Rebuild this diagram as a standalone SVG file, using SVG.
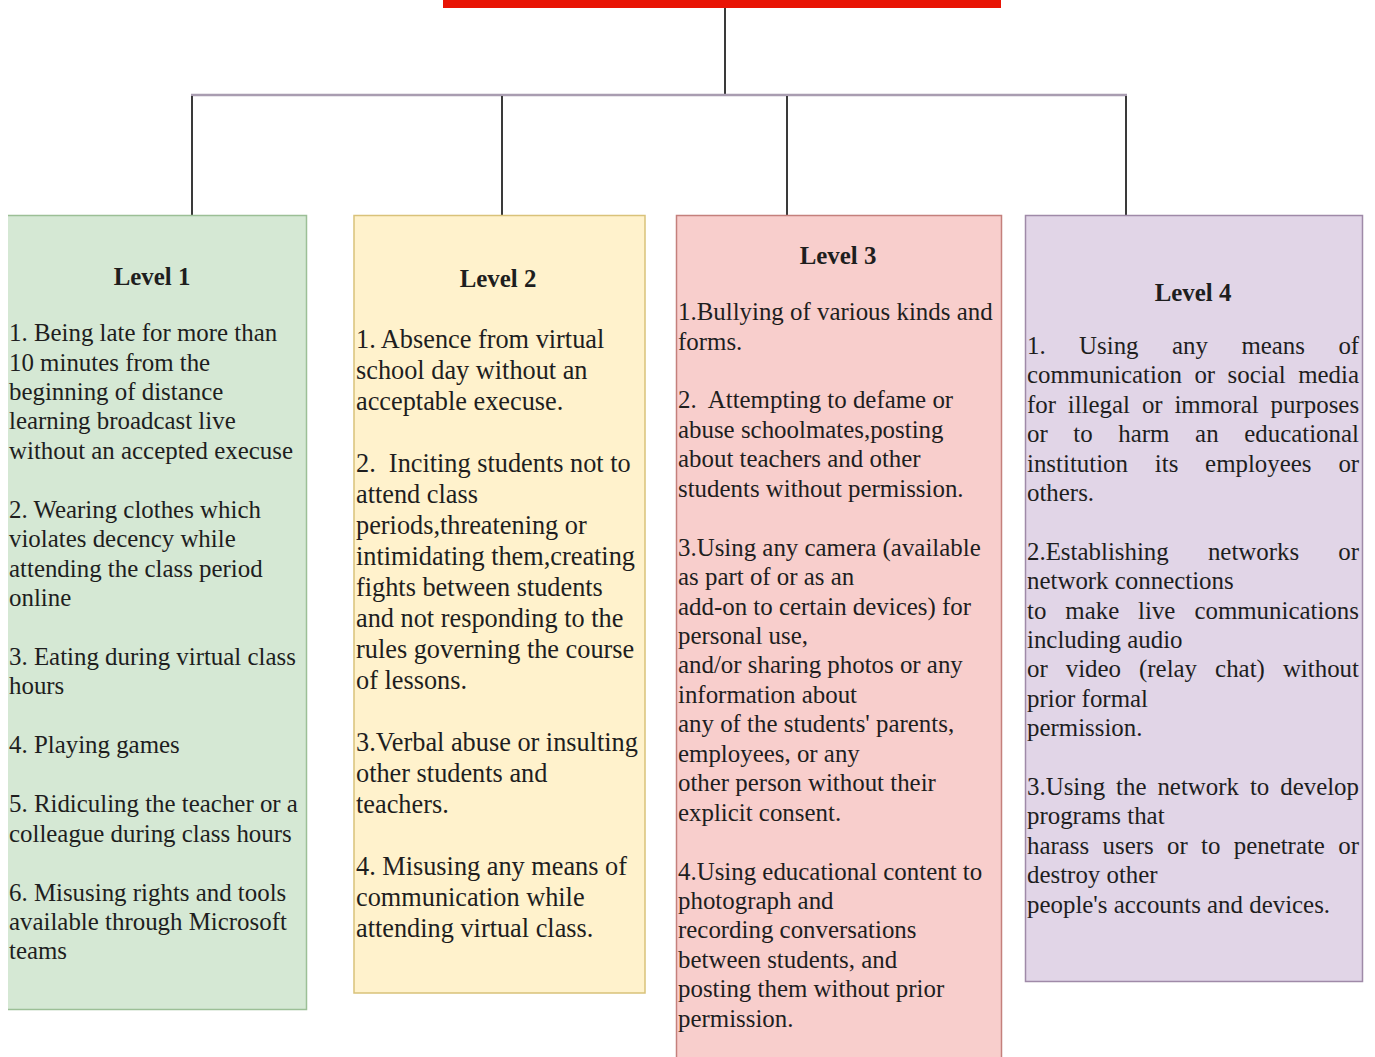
<svg xmlns="http://www.w3.org/2000/svg" width="1375" height="1057" viewBox="0 0 1375 1057">
<style>
.t{font-family:"Liberation Serif","Times New Roman",serif;fill:#1e1e1e;white-space:pre}
.b{font-size:24.9px}
.b2{font-size:26.3px}
.h{font-size:24.9px;font-weight:bold;text-anchor:middle}
.c{stroke:#3a3a3a;stroke-width:2;fill:none}
</style>
<rect width="1375" height="1057" fill="#ffffff"/>
<g id="top-bar"><rect x="443" y="0" width="558" height="8" fill="#e81405"/></g>
<g id="connectors">
<line class="c" x1="725" y1="8" x2="725" y2="95"/>
<line x1="191" y1="95" x2="1127" y2="95" stroke="#a99db1" stroke-width="2.5"/>
<line class="c" x1="192" y1="96" x2="192" y2="215"/>
<line class="c" x1="502" y1="96" x2="502" y2="215"/>
<line class="c" x1="787" y1="96" x2="787" y2="215"/>
<line class="c" x1="1126" y1="96" x2="1126" y2="215"/>
</g>
<g id="level1">
<rect x="8" y="215" width="299" height="795" fill="#d5e8d4"/>
<path d="M8 215.5H306.5V1009.5H8" fill="none" stroke="#9cbf96" stroke-width="1.5"/>
<text class="t h" x="152" y="285">Level 1</text>
<text class="t b">
<tspan x="9" y="341">1. Being late for more than</tspan>
<tspan x="9" y="370.5">10 minutes from the</tspan>
<tspan x="9" y="400">beginning of distance</tspan>
<tspan x="9" y="429.4">learning broadcast live</tspan>
<tspan x="9" y="458.8">without an accepted execuse</tspan>
<tspan x="9" y="517.7">2. Wearing clothes which</tspan>
<tspan x="9" y="547.2">violates decency while</tspan>
<tspan x="9" y="576.6">attending the class period</tspan>
<tspan x="9" y="606">online</tspan>
<tspan x="9" y="665">3. Eating during virtual class</tspan>
<tspan x="9" y="694.4">hours</tspan>
<tspan x="9" y="753.3">4. Playing games</tspan>
<tspan x="9" y="812.2">5. Ridiculing the teacher or a</tspan>
<tspan x="9" y="841.6">colleague during class hours</tspan>
<tspan x="9" y="900.5">6. Misusing rights and tools</tspan>
<tspan x="9" y="930">available through Microsoft</tspan>
<tspan x="9" y="959.4">teams</tspan>
</text>
</g>
<g id="level2">
<rect x="354" y="215.5" width="291" height="777.5" fill="#fff2cc" stroke="#d9c27a" stroke-width="1.5"/>
<text class="t h" x="498" y="287">Level 2</text>
<text class="t b2">
<tspan x="356" y="348">1. Absence from virtual</tspan>
<tspan x="356" y="379">school day without an</tspan>
<tspan x="356" y="410">acceptable execuse.</tspan>
<tspan x="356" y="472">2.  Inciting students not to</tspan>
<tspan x="356" y="503">attend class</tspan>
<tspan x="356" y="534">periods,threatening or</tspan>
<tspan x="356" y="565">intimidating them,creating</tspan>
<tspan x="356" y="596">fights between students</tspan>
<tspan x="356" y="627">and not responding to the</tspan>
<tspan x="356" y="658">rules governing the course</tspan>
<tspan x="356" y="689">of lessons.</tspan>
<tspan x="356" y="751">3.Verbal abuse or insulting</tspan>
<tspan x="356" y="782">other students and</tspan>
<tspan x="356" y="813">teachers.</tspan>
<tspan x="356" y="875">4. Misusing any means of</tspan>
<tspan x="356" y="906">communication while</tspan>
<tspan x="356" y="937">attending virtual class.</tspan>
</text>
</g>
<g id="level3">
<rect x="676.5" y="215.5" width="325" height="850" fill="#f8cecc" stroke="#c4807c" stroke-width="1.5"/>
<text class="t h" x="838" y="264">Level 3</text>
<text class="t b">
<tspan x="678" y="320">1.Bullying of various kinds and</tspan>
<tspan x="678" y="349.5">forms.</tspan>
<tspan x="678" y="408.4">2.  Attempting to defame or</tspan>
<tspan x="678" y="437.8">abuse schoolmates,posting</tspan>
<tspan x="678" y="467.3">about teachers and other</tspan>
<tspan x="678" y="496.7">students without permission.</tspan>
<tspan x="678" y="555.6">3.Using any camera (available</tspan>
<tspan x="678" y="585">as part of or as an</tspan>
<tspan x="678" y="614.5">add-on to certain devices) for</tspan>
<tspan x="678" y="644">personal use,</tspan>
<tspan x="678" y="673.4">and/or sharing photos or any</tspan>
<tspan x="678" y="702.8">information about</tspan>
<tspan x="678" y="732.3">any of the students' parents,</tspan>
<tspan x="678" y="761.7">employees, or any</tspan>
<tspan x="678" y="791.2">other person without their</tspan>
<tspan x="678" y="820.6">explicit consent.</tspan>
<tspan x="678" y="879.5">4.Using educational content to</tspan>
<tspan x="678" y="909">photograph and</tspan>
<tspan x="678" y="938.4">recording conversations</tspan>
<tspan x="678" y="967.9">between students, and</tspan>
<tspan x="678" y="997.3">posting them without prior</tspan>
<tspan x="678" y="1026.8">permission.</tspan>
</text>
</g>
<g id="level4">
<rect x="1025.5" y="215.5" width="337" height="766" fill="#e1d5e7" stroke="#9f8aa8" stroke-width="1.5"/>
<text class="t h" x="1193" y="301">Level 4</text>
<text class="t b">
<tspan y="354" x="1027">1.</tspan><tspan y="354" x="1079.1">Using</tspan><tspan y="354" x="1172">any</tspan><tspan y="354" x="1241.4">means</tspan><tspan y="354" x="1338.4">of</tspan>
<tspan y="383.4" x="1027">communication</tspan><tspan y="383.4" x="1194.4">or</tspan><tspan y="383.4" x="1227.6">social</tspan><tspan y="383.4" x="1298.2">media</tspan>
<tspan y="412.8" x="1027">for</tspan><tspan y="412.8" x="1067.8">illegal</tspan><tspan y="412.8" x="1141.9">or</tspan><tspan y="412.8" x="1174.4">immoral</tspan><tspan y="412.8" x="1270.6">purposes</tspan>
<tspan y="442.2" x="1027">or</tspan><tspan y="442.2" x="1073.3">to</tspan><tspan y="442.2" x="1118.3">harm</tspan><tspan y="442.2" x="1195.1">an</tspan><tspan y="442.2" x="1244.2">educational</tspan>
<tspan y="471.6" x="1027">institution</tspan><tspan y="471.6" x="1154.8">its</tspan><tspan y="471.6" x="1205.1">employees</tspan><tspan y="471.6" x="1338.4">or</tspan>
<tspan y="501" x="1027">others.</tspan>
<tspan y="559.8" x="1027">2.Establishing</tspan><tspan y="559.8" x="1207.9">networks</tspan><tspan y="559.8" x="1338.3">or</tspan>
<tspan y="589.2" x="1027">network connections</tspan>
<tspan y="618.6" x="1027">to</tspan><tspan y="618.6" x="1065.3">make</tspan><tspan y="618.6" x="1138.1">live</tspan><tspan y="618.6" x="1194.4">communications</tspan>
<tspan y="648" x="1027">including audio</tspan>
<tspan y="677.4" x="1027">or</tspan><tspan y="677.4" x="1065.7">video</tspan><tspan y="677.4" x="1139">(relay</tspan><tspan y="677.4" x="1215.1">chat)</tspan><tspan y="677.4" x="1282.9">without</tspan>
<tspan y="706.8" x="1027">prior formal</tspan>
<tspan y="736.2" x="1027">permission.</tspan>
<tspan y="795" x="1027">3.Using</tspan><tspan y="795" x="1116.1">the</tspan><tspan y="795" x="1157.4">network</tspan><tspan y="795" x="1249.9">to</tspan><tspan y="795" x="1280.2">develop</tspan>
<tspan y="824.4" x="1027">programs that</tspan>
<tspan y="853.8" x="1027">harass</tspan><tspan y="853.8" x="1102.5">users</tspan><tspan y="853.8" x="1167">or</tspan><tspan y="853.8" x="1201">to</tspan><tspan y="853.8" x="1233.7">penetrate</tspan><tspan y="853.8" x="1338.3">or</tspan>
<tspan y="883.2" x="1027">destroy other</tspan>
<tspan y="912.6" x="1027">people's accounts and devices.</tspan>
</text>
</g>
</svg>
